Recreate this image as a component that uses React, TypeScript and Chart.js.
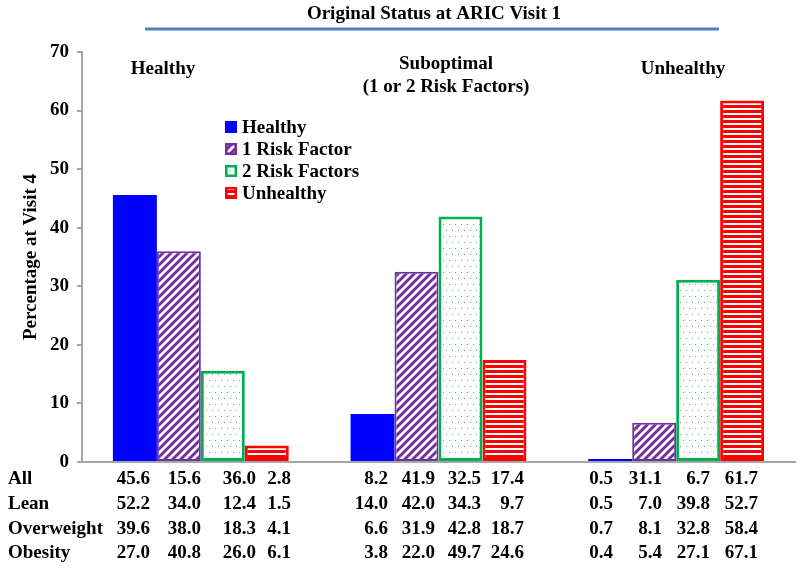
import React, { useEffect, useRef } from "react";
import { Chart, registerables } from "chart.js";

Chart.register(...registerables);

// ---------- data ----------
const categories = ["Healthy", "Suboptimal", "Unhealthy"];
const groupLabelLines = [["Healthy"], ["Suboptimal", "(1 or 2 Risk Factors)"], ["Unhealthy"]];
const seriesNames = ["Healthy", "1 Risk Factor", "2 Risk Factors", "Unhealthy"];
const healthyValues = [45.6, 8.2, 0.5];
const oneRiskValues = [36.0, 32.5, 6.7];
const twoRiskValues = [15.6, 41.9, 31.1];
const unhealthyValues = [2.8, 17.4, 61.7];
const yMin = 0;
const yMax = 70;
const yStep = 10;
const chartTitle = "Original Status at ARIC Visit 1";
const yAxisTitle = "Percentage at Visit 4";
const tableRowLabels = ["All", "Lean", "Overweight", "Obesity"];
const allRow = [45.6, 15.6, 36.0, 2.8, 8.2, 41.9, 32.5, 17.4, 0.5, 31.1, 6.7, 61.7];
const leanRow = [52.2, 34.0, 12.4, 1.5, 14.0, 42.0, 34.3, 9.7, 0.5, 7.0, 39.8, 52.7];
const overweightRow = [39.6, 38.0, 18.3, 4.1, 6.6, 31.9, 42.8, 18.7, 0.7, 8.1, 32.8, 58.4];
const obesityRow = [27.0, 40.8, 26.0, 6.1, 3.8, 22.0, 49.7, 24.6, 0.4, 5.4, 27.1, 67.1];

// ---------- layout / style ----------
const W = 800;
const H = 570;
const FONT = "bold 19px 'Liberation Serif', 'Times New Roman', serif";
const tableColRight = [150, 201, 256, 291, 388, 435, 481, 524, 613, 662, 710, 758];
const tableRowY = [479, 504, 529, 553];
const groupLabelPos = [
  { x: 163, y: 69 },
  { x: 446, y: 64 },
  { x: 683, y: 69 },
];

function makeTile(w: number, h: number, draw: (c: CanvasRenderingContext2D) => void) {
  const cv = document.createElement("canvas");
  cv.width = w;
  cv.height = h;
  const c = cv.getContext("2d")!;
  draw(c);
  return cv;
}

export default function App() {
  const ref = useRef<HTMLCanvasElement | null>(null);

  useEffect(() => {
    const canvas = ref.current!;
    const ctx = canvas.getContext("2d")!;

    const purpleTile = makeTile(8, 8, (c) => {
      c.fillStyle = "#ffffff";
      c.fillRect(0, 0, 8, 8);
      c.strokeStyle = "#7030A0";
      c.lineWidth = 3;
      c.beginPath();
      c.moveTo(-2, 10); c.lineTo(10, -2);
      c.moveTo(-6, 6); c.lineTo(6, -6);
      c.moveTo(2, 14); c.lineTo(14, 2);
      c.stroke();
    });
    const greenTile = makeTile(12, 12, (c) => {
      c.fillStyle = "#ffffff";
      c.fillRect(0, 0, 12, 12);
      c.fillStyle = "#5aa870";
      c.fillRect(2, 2, 1, 1);
      c.fillRect(8, 2, 1, 1);
      c.fillRect(5, 8, 1, 1);
      c.fillRect(11, 8, 1, 1);
    });
    const redTile = makeTile(5, 5, (c) => {
      c.fillStyle = "#ffffff";
      c.fillRect(0, 0, 5, 5);
      c.fillStyle = "#FF0000";
      c.fillRect(0, 0, 5, 3);
    });
    const purplePattern = ctx.createPattern(purpleTile, "repeat")!;
    const greenPattern = ctx.createPattern(greenTile, "repeat")!;
    const redPattern = ctx.createPattern(redTile, "repeat")!;

    const fills: any[] = ["#0000FF", purplePattern, greenPattern, redPattern];
    const borders = ["#0000FF", "#7030A0", "#00B050", "#FF0000"];
    const borderWidths = [0, 2, 3, 3];
    const seriesValues = [healthyValues, oneRiskValues, twoRiskValues, unhealthyValues];
    const tableRows = [allRow, leanRow, overweightRow, obesityRow];

    const overlay = {
      id: "overlay",
      afterDraw(chart: any) {
        const c = chart.ctx as CanvasRenderingContext2D;
        c.save();
        c.font = FONT;
        c.fillStyle = "#000";
        c.textBaseline = "middle";

        // title
        c.textAlign = "center";
        c.fillText(chartTitle, 434, 14);
        c.strokeStyle = "#4F81BD";
        c.lineWidth = 3;
        c.beginPath();
        c.moveTo(145, 29);
        c.lineTo(719, 29);
        c.stroke();

        // group labels
        groupLabelLines.forEach((lines, i) => {
          lines.forEach((t, j) => {
            c.fillText(t, groupLabelPos[i].x, groupLabelPos[i].y + j * 23);
          });
        });

        // y axis title
        c.save();
        c.translate(31, 257);
        c.rotate(-Math.PI / 2);
        c.textAlign = "center";
        c.fillText(yAxisTitle, 0, 0);
        c.restore();

        // legend
        chart.data.datasets.forEach((ds: any, i: number) => {
          const y = 127 + i * 22;
          const bx = 225, by = y - 6, s = 12;
          c.fillStyle = ds.backgroundColor;
          c.fillRect(bx, by, s, s);
          if (ds.borderWidth > 0) {
            c.strokeStyle = ds.borderColor;
            c.lineWidth = 2.5;
            c.strokeRect(bx + 1.25, by + 1.25, s - 2.5, s - 2.5);
          }
          c.fillStyle = "#000";
          c.textAlign = "left";
          c.fillText(ds.label, 242, y + 1);
        });

        // table
        c.fillStyle = "#000";
        tableRowLabels.forEach((lab, r) => {
          c.textAlign = "left";
          c.fillText(lab, 8, tableRowY[r]);
          c.textAlign = "right";
          tableRows[r].forEach((v, k) => {
            c.fillText(v.toFixed(1), tableColRight[k], tableRowY[r]);
          });
        });
        c.restore();
      },
    };

    const chart = new Chart(ctx, {
      type: "bar",
      data: {
        labels: categories,
        datasets: seriesNames.map((name, i) => ({
          label: name,
          data: seriesValues[i],
          backgroundColor: fills[i],
          borderColor: borders[i],
          borderWidth: borderWidths[i],
          borderSkipped: false,
          categoryPercentage: 0.74,
          barPercentage: 1.0,
        })),
      },
      options: {
        responsive: false,
        animation: false,
        devicePixelRatio: 1,
        layout: { padding: { left: 0, top: 52, right: 5, bottom: 108 } },
        plugins: {
          legend: { display: false },
          tooltip: { enabled: false },
          title: { display: false },
        },
        scales: {
          x: {
            grid: { display: false },
            ticks: { display: false },
            border: { display: true, color: "#A6A6A6", width: 2 },
            afterFit: (s: any) => { s.height = 0; },
          },
          y: {
            min: yMin,
            max: yMax,
            ticks: {
              stepSize: yStep,
              color: "#000",
              padding: 8,
              font: { family: "'Liberation Serif', 'Times New Roman', serif", size: 19, weight: "bold" },
            },
            grid: { display: true, drawOnChartArea: false, drawTicks: true, tickLength: 5, color: "#A6A6A6", lineWidth: 2 },
            border: { display: true, color: "#A6A6A6", width: 2 },
            afterFit: (s: any) => { s.width = 82; },
          },
        },
      } as any,
      plugins: [overlay],
    });

    return () => chart.destroy();
  }, []);

  return (
    <div style={{ position: "fixed", left: 0, top: 0, width: W, height: H, background: "#fff" }}>
      <canvas ref={ref} width={W} height={H} style={{ display: "block", width: W, height: H }} />
    </div>
  );
}
